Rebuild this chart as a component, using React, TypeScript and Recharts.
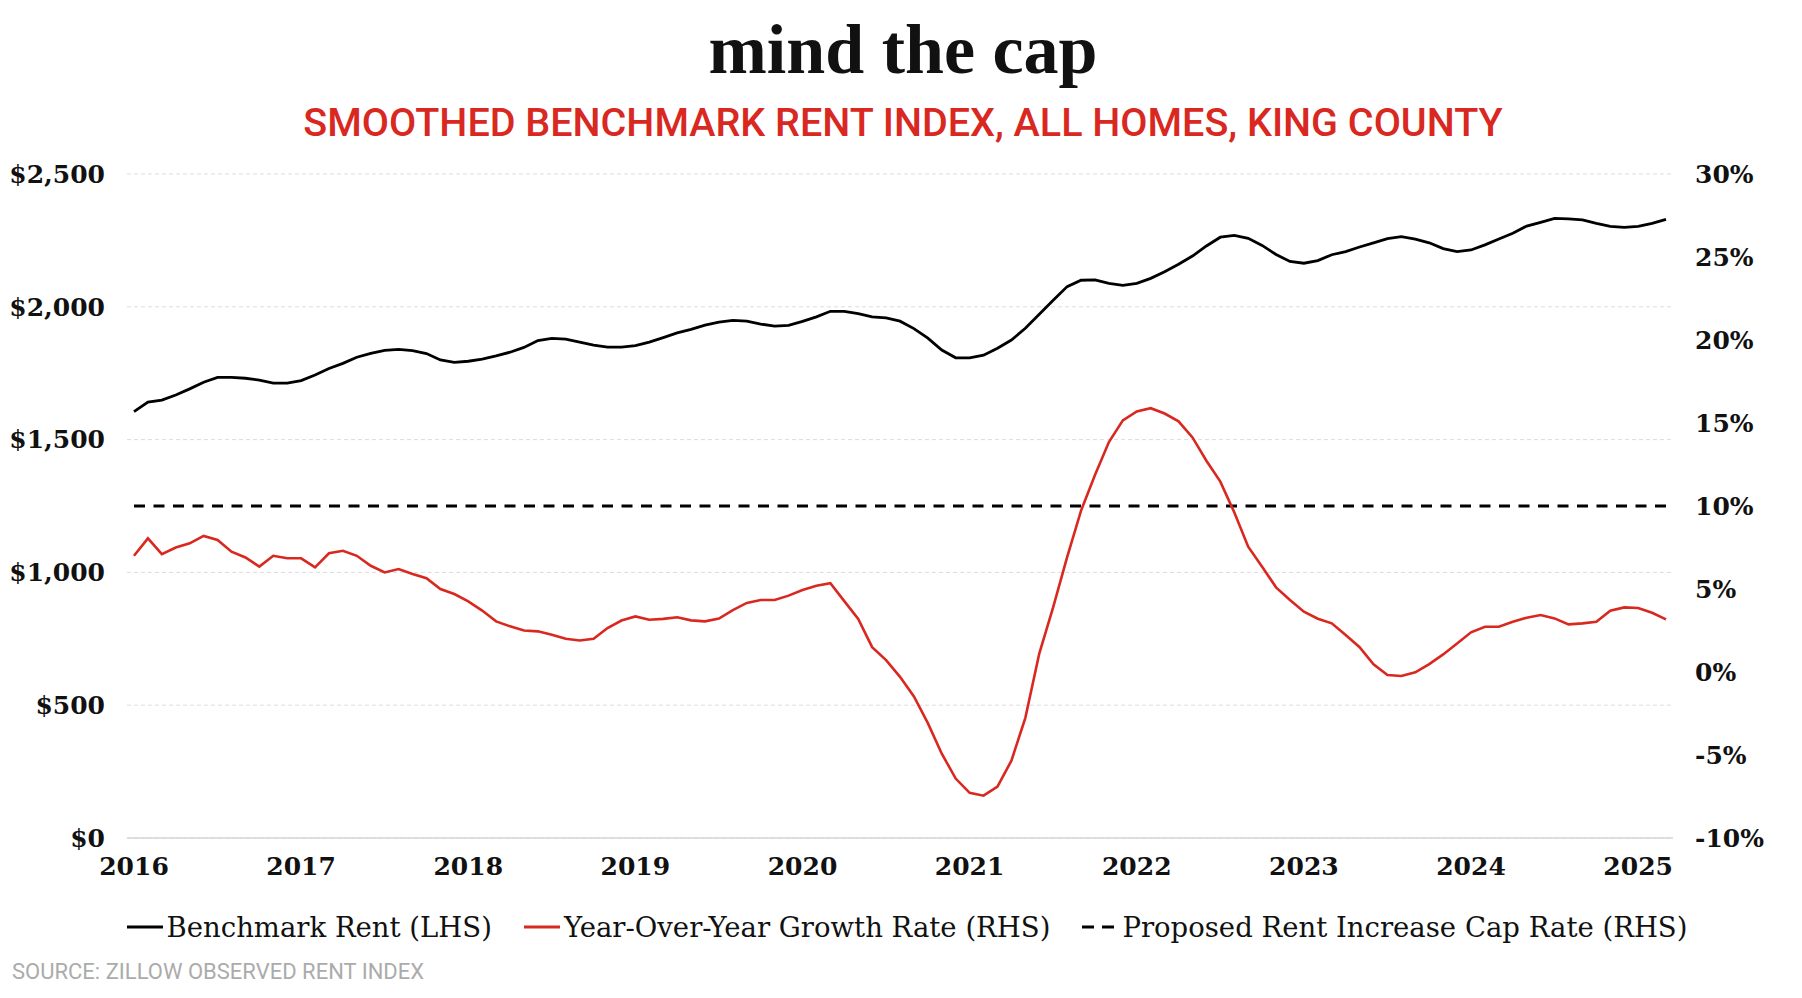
import React from 'react';
import { LineChart, Line, XAxis, YAxis, CartesianGrid } from 'recharts';

// monthly, Jan 2016 - Mar 2025
const START_YEAR = 2016;
const YEAR_TICKS = [2016, 2017, 2018, 2019, 2020, 2021, 2022, 2023, 2024, 2025];
const RENT_TICKS = [0, 500, 1000, 1500, 2000, 2500];
const PCT_TICKS = [-10, -5, 0, 5, 10, 15, 20, 25, 30];

// Benchmark rent ($)
const RENT = [
  1605, 1641, 1649, 1668, 1691, 1716, 1734, 1734, 1731, 1724, 1713, 1713,
  1722, 1743, 1768, 1787, 1810, 1825, 1836, 1840, 1835, 1824, 1800, 1791,
  1795, 1803, 1815, 1829, 1847, 1873, 1881, 1878, 1867, 1856, 1848, 1848,
  1854, 1867, 1884, 1902, 1915, 1931, 1942, 1949, 1946, 1935, 1927, 1930,
  1945, 1962, 1983, 1983, 1974, 1962, 1958, 1946, 1918, 1882, 1837, 1808,
  1808, 1818, 1844, 1875, 1919, 1972, 2025, 2076, 2100, 2101, 2088, 2081,
  2088, 2107, 2132, 2160, 2191, 2229, 2262, 2269, 2258, 2231, 2197, 2171,
  2164, 2174, 2196, 2208, 2225, 2241, 2257, 2264, 2255, 2241, 2219, 2208,
  2214, 2233, 2255, 2277, 2304, 2318, 2333, 2331, 2327, 2314, 2303, 2299,
  2303, 2314, 2329,
];

// Year-over-year growth (%)
const YOY = [
  7.0, 8.05, 7.1, 7.5, 7.75, 8.2, 7.95, 7.25, 6.9, 6.35, 7.0, 6.85,
  6.85, 6.3, 7.15, 7.3, 7.0, 6.4, 6.0, 6.2, 5.9, 5.65, 5.0, 4.7,
  4.25, 3.7, 3.05, 2.75, 2.5, 2.45, 2.25, 2.0, 1.9, 2.0, 2.65, 3.1,
  3.35, 3.15, 3.2, 3.3, 3.11, 3.05, 3.22, 3.73, 4.16, 4.34, 4.34, 4.6,
  4.94, 5.2, 5.35, 4.27, 3.2, 1.5, 0.72, -0.29, -1.47, -3.08, -4.92, -6.42,
  -7.28, -7.45, -6.91, -5.34, -2.76, 1.11, 3.91, 6.92, 9.72, 11.87, 13.85, 15.16,
  15.7, 15.89, 15.57, 15.1, 14.13, 12.73, 11.47, 9.62, 7.55, 6.34, 5.1, 4.34,
  3.63, 3.21, 2.93, 2.23, 1.49, 0.46, -0.18, -0.24, -0.02, 0.48, 1.06, 1.72,
  2.39, 2.73, 2.73, 3.03, 3.27, 3.43, 3.23, 2.87, 2.93, 3.03, 3.69, 3.89,
  3.86, 3.57, 3.17,
];

const CAP_RATE = 10;

const data = RENT.map((rent, i) => ({
  t: START_YEAR + i / 12,
  rent,
  yoy: YOY[i],
  cap: CAP_RATE,
}));

const RED = '#d9281f';
const SERIF = '"DejaVu Serif", serif';
const TITLE_FONT = '"Liberation Serif", serif';
const SANS = 'Roboto, sans-serif';

const tickStyle = { fontFamily: SERIF, fontWeight: 700, fontSize: 25, fill: '#111' };

const LegendItem = ({ color, dashed, label }: { color: string; dashed?: boolean; label: string }) => (
  <div style={{ display: 'flex', alignItems: 'center' }}>
    <svg width={38} height={6} style={{ marginRight: 2 }}>
      <line
        x1={0}
        y1={3}
        x2={36}
        y2={3}
        stroke={color}
        strokeWidth={3}
        strokeDasharray={dashed ? '12 8' : undefined}
      />
    </svg>
    <span>{label}</span>
  </div>
);

const App: React.FC = () => {
  return (
    <div style={{ position: 'absolute', left: 0, top: 0, width: 1802, height: 998, background: '#fff' }}>
      <div
        style={{
          position: 'absolute',
          top: 15,
          left: 2,
          width: 1802,
          textAlign: 'center',
          fontFamily: TITLE_FONT,
          fontWeight: 700,
          fontSize: 70,
          lineHeight: '70px',
          color: '#111',
        }}
      >
        mind the cap
      </div>
      <div
        style={{
          position: 'absolute',
          top: 103,
          left: 2,
          width: 1802,
          textAlign: 'center',
          fontFamily: SANS,
          fontWeight: 500,
          fontSize: 39.5,
          lineHeight: '39.5px',
          color: RED,
        }}
      >
        SMOOTHED BENCHMARK RENT INDEX, ALL HOMES, KING COUNTY
      </div>

      <div style={{ position: 'absolute', left: 0, top: 0 }}>
        <LineChart width={1802} height={998} data={data} margin={{ top: 174, right: 0, bottom: 110, left: 0 }}>
          <CartesianGrid yAxisId="left" vertical={false} stroke="#dcdcdc" strokeDasharray="4 3" />
          <XAxis
            dataKey="t"
            type="number"
            domain={[START_YEAR, START_YEAR + (RENT.length - 1) / 12]}
            ticks={YEAR_TICKS}
            interval={0}
            padding={{ left: 7, right: 7 }}
            height={50}
            tickLine={false}
            tickMargin={13}
            axisLine={{ stroke: '#d6d6d6', strokeWidth: 1.5 }}
            tick={tickStyle}
            tickFormatter={(v) => String(v)}
          />
          <YAxis
            yAxisId="left"
            domain={[0, 2500]}
            ticks={RENT_TICKS}
            interval={0}
            width={127}
            axisLine={false}
            tickLine={false}
            tickMargin={16}
            tick={tickStyle}
            tickFormatter={(v) => `$${Number(v).toLocaleString('en-US')}`}
          />
          <YAxis
            yAxisId="right"
            orientation="right"
            domain={[-10, 30]}
            ticks={PCT_TICKS}
            interval={0}
            width={129}
            axisLine={false}
            tickLine={false}
            tickMargin={16}
            tick={tickStyle}
            tickFormatter={(v) => `${v}%`}
          />
          <Line
            yAxisId="right"
            type="linear"
            dataKey="cap"
            stroke="#000"
            strokeWidth={3}
            strokeDasharray="11 8.5"
            dot={false}
            isAnimationActive={false}
          />
          <Line
            yAxisId="left"
            type="linear"
            dataKey="rent"
            stroke="#000"
            strokeWidth={2.8}
            dot={false}
            isAnimationActive={false}
          />
          <Line
            yAxisId="right"
            type="linear"
            dataKey="yoy"
            stroke={RED}
            strokeWidth={2.6}
            dot={false}
            isAnimationActive={false}
          />
        </LineChart>
      </div>

      <div
        style={{
          position: 'absolute',
          top: 908,
          left: 0,
          width: 1814,
          display: 'flex',
          justifyContent: 'center',
          gap: 32,
          fontFamily: SERIF,
          fontSize: 27.5,
          lineHeight: '38px',
          color: '#111',
        }}
      >
        <LegendItem color="#000" label="Benchmark Rent (LHS)" />
        <LegendItem color={RED} label="Year-Over-Year Growth Rate (RHS)" />
        <LegendItem color="#000" dashed label="Proposed Rent Increase Cap Rate (RHS)" />
      </div>

      <div
        style={{
          position: 'absolute',
          top: 961,
          left: 12,
          fontFamily: SANS,
          fontSize: 22,
          lineHeight: '22px',
          color: '#ababab',
          whiteSpace: 'nowrap',
        }}
      >
        SOURCE: ZILLOW OBSERVED RENT INDEX
      </div>
    </div>
  );
};

export default App;
